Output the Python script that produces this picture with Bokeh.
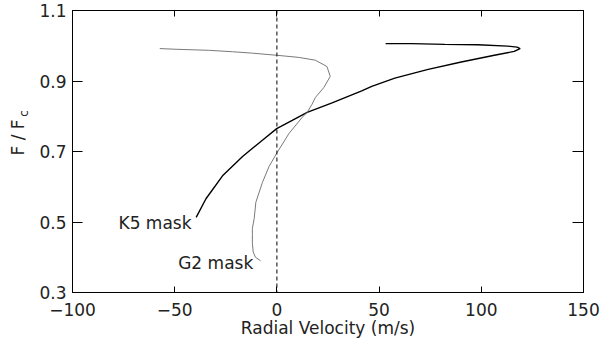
from math import pi
from bokeh.plotting import figure
from bokeh.layouts import row
from bokeh.models import LinearAxis, FixedTicker, Span
from bokeh.core.properties import value
from bokeh.embed import file_html
from bokeh.resources import INLINE

# ---- data ----
k5_vel = [-39.5, -34.7, -26.6, -16.8, -7.1, -0.1, 7.5, 14.8, 27.0, 41.5, 46.4,
          57.7, 74.0, 90.2, 106.4, 116.1, 119.0, 117.5, 112.9, 98.3, 82.1, 65.9, 53.2]
k5_flux = [0.513, 0.566, 0.631, 0.686, 0.732, 0.765, 0.788, 0.811, 0.838, 0.872, 0.885,
           0.908, 0.933, 0.954, 0.973, 0.984, 0.992, 0.996, 0.999, 1.003, 1.004, 1.006, 1.006]

g2_vel = [-8.0, -10.5, -11.6, -12.0, -12.0, -12.0, -11.1, -10.3, -7.1, -3.8, -0.1,
          5.9, 12.4, 14.8, 17.2, 18.8, 22.9, 26.1, 24.5, 18.8, 10.7, -0.1, -12.0,
          -21.7, -33.0, -49.3, -57.3]
g2_flux = [0.390, 0.400, 0.415, 0.440, 0.464, 0.482, 0.510, 0.556, 0.612, 0.658, 0.695,
           0.751, 0.797, 0.811, 0.834, 0.853, 0.881, 0.913, 0.941, 0.959, 0.967, 0.973, 0.979,
           0.983, 0.987, 0.990, 0.992]

x_ticks = [-100, -50, 0, 50, 100, 150]
y_ticks = [0.3, 0.5, 0.7, 0.9, 1.1]
x_tick_text = {-100: "\u2212100", -50: "\u221250"}

mask_names = ["K5 mask", "G2 mask"]
mask_label_x = [-77.5, -48.3]
mask_label_y = [0.496, 0.383]

FONT = "DejaVu Sans"
TXT = "#222222"

# layout constants (pixels)
W = 600
H = 348
LAB_W = 36
BORDER_LEFT = 33
BORDER_RIGHT = 17
BORDER_TOP = 10
BORDER_BOTTOM = 56

p = figure(width=W - LAB_W, height=H, x_range=(-100, 150), y_range=(0.3, 1.1),
           output_backend="svg", toolbar_location=None, title=None,
           min_border_left=BORDER_LEFT, min_border_right=BORDER_RIGHT,
           min_border_top=BORDER_TOP, min_border_bottom=BORDER_BOTTOM)
p.background_fill_color = "white"
p.border_fill_color = "white"
p.outline_line_color = "black"
p.grid.visible = False


def style_axis(ax, ticks, tick_in, labels=True):
    ax.ticker = FixedTicker(ticks=ticks)
    ax.major_tick_in = tick_in
    ax.major_tick_out = 0
    ax.minor_tick_in = 0
    ax.minor_tick_out = 0
    ax.axis_line_color = "black"
    ax.axis_line_width = 1
    ax.major_tick_line_color = "black"
    ax.major_tick_line_width = 1
    if labels:
        ax.major_label_text_font = FONT
        ax.major_label_text_font_size = "17px"
        ax.major_label_text_color = TXT
    else:
        ax.major_label_text_font_size = "1px"
        ax.major_label_text_color = None
        ax.major_label_standoff = 0


xa = p.xaxis[0]
style_axis(xa, x_ticks, 6)
xa.major_label_overrides = x_tick_text
xa.major_label_standoff = 10
xa.axis_label = "Radial Velocity (m/s)"
xa.axis_label_text_font = FONT
xa.axis_label_text_font_size = "17px"
xa.axis_label_text_font_style = "normal"
xa.axis_label_text_color = TXT
xa.axis_label_standoff = -1

ya = p.yaxis[0]
style_axis(ya, y_ticks, 10)
ya.major_label_standoff = 6

top = LinearAxis()
style_axis(top, x_ticks, 6, labels=False)
p.add_layout(top, "above")
right = LinearAxis()
style_axis(right, y_ticks, 11, labels=False)
p.add_layout(right, "right")

p.add_layout(Span(location=0, dimension="height", line_color="black",
                  line_width=1, line_dash="4 3"))

p.line(k5_vel, k5_flux, line_color="black", line_width=1.4)
p.line(g2_vel, g2_flux, line_color="#7a7a7a", line_width=1)

p.text(x=mask_label_x, y=mask_label_y, text=mask_names, text_font=value(FONT),
       text_font_size="17px", text_color=TXT, text_align="left", text_baseline="alphabetic")

# ---- narrow strip holding the rotated y-axis title "F / F_c" ----
lab = figure(width=LAB_W, height=H, x_range=(0, LAB_W), y_range=(0, H),
             output_backend="svg", toolbar_location=None, title=None,
             x_axis_location=None, y_axis_location=None,
             min_border_left=0, min_border_right=0, min_border_top=0, min_border_bottom=0)
lab.outline_line_color = None
lab.grid.visible = False
lab.background_fill_color = "white"
lab.border_fill_color = "white"

mid = BORDER_BOTTOM + (H - BORDER_TOP - BORDER_BOTTOM) / 2
lab.text(x=[17.5], y=[mid - 28], text=["F  /  F"], angle=pi / 2, text_font=value(FONT),
         text_font_size="17px", text_color=TXT, text_align="left", text_baseline="alphabetic")
lab.text(x=[23.5], y=[mid + 20], text=["c"], angle=pi / 2, text_font=value(FONT),
         text_font_size="12px", text_color=TXT, text_align="left", text_baseline="alphabetic")

layout = row(lab, p, spacing=0)
open("out.html", "w").write(file_html(layout, INLINE))
